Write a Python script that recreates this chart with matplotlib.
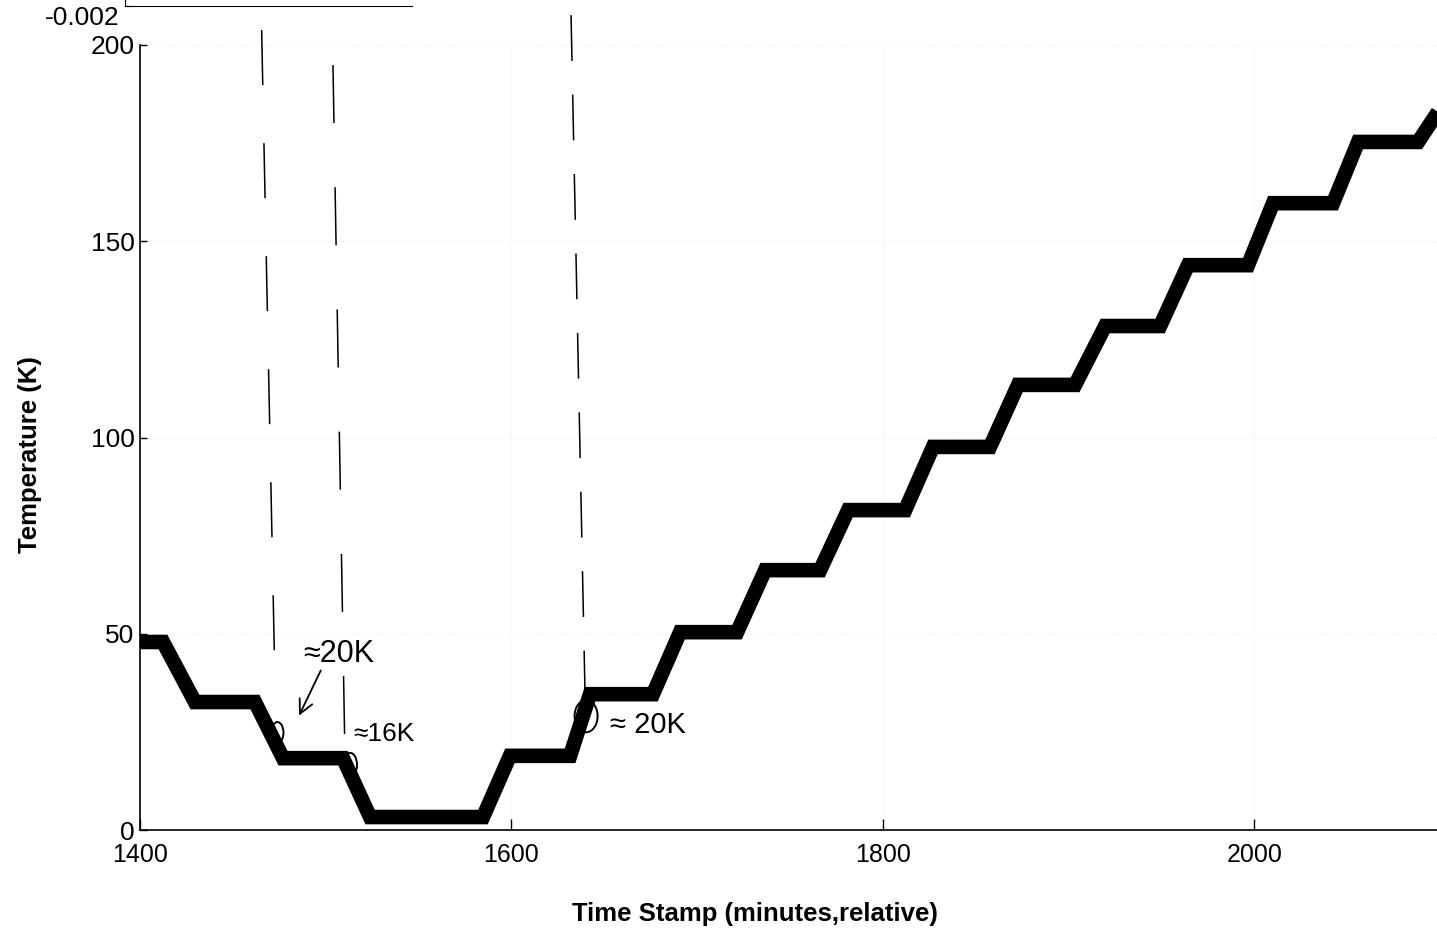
import numpy as np
import matplotlib
matplotlib.use('Agg')
import matplotlib.pyplot as plt
from matplotlib.patches import Ellipse

plt.rcParams['font.family'] = ['Liberation Sans', 'DejaVu Sans']

# staircase temperature profile (corner points)
time_min = [1400, 1412.4, 1429.6, 1461.9, 1477.0, 1509.3, 1523.9, 1584.7,
            1599.2, 1631.6, 1642.3, 1676.2, 1690.8, 1721.5, 1736.6, 1766.2,
            1781.3, 1812.0, 1827.0, 1857.7, 1872.8, 1903.5, 1919.7, 1949.3,
            1964.3, 1996.6, 2010.1, 2042.4, 2055.9, 2088.2, 2099.0]
temp_k = [47.9, 47.9, 32.6, 32.6, 18.3, 18.3, 3.3, 3.3,
          18.9, 18.9, 34.6, 34.6, 50.4, 50.4, 66.2, 66.2,
          81.5, 81.5, 97.6, 97.6, 113.4, 113.4, 128.4, 128.4,
          143.9, 143.9, 159.7, 159.7, 175.3, 175.3, 183.0]

x_ticks = [1400, 1600, 1800, 2000]
y_ticks = [0, 50, 100, 150, 200]

# hand drawn dashed markers (top / bottom ends)
dash_x_top = [1465.5, 1503.9, 1632.1]
dash_x_bot = [1472.5, 1510.4, 1639.7]
dash_t_top = [203.8, 194.9, 207.6]
dash_t_bot = [41.3, 17.8, 33.1]

# hand drawn circles and notes
circle_x = [1474.0, 1513.1, 1640.2]
circle_t = [24.8, 16.6, 29.0]
note_text = ['≈20K', '≈16K', '≈ 20K']
note_x = [1487.7, 1515.0, 1653.0]
note_t = [44.8, 24.5, 26.8]

fig = plt.figure(figsize=(14.37, 9.42), dpi=100)
ax = fig.add_axes([140/1437, 1-830/942, 1300/1437, 785/942])

ax.plot(time_min, temp_k, color='black', lw=10.5,
        solid_joinstyle='miter', solid_capstyle='butt')

ax.set_xlim(1400, 2100)
ax.set_ylim(0, 200)
ax.set_xticks(x_ticks)
ax.set_yticks(y_ticks)
ax.grid(True, ls=':', color='#e6e6e6', lw=0.5)
for s in ['top', 'right']:
    ax.spines[s].set_visible(False)
for s in ['left', 'bottom']:
    ax.spines[s].set_linewidth(1.2)
ax.tick_params(axis='x', direction='in', length=8, width=1, labelsize=18, pad=9)
ax.tick_params(axis='y', direction='in', length=5, width=1, labelsize=19, pad=4)

ax.set_xlabel('Time Stamp (minutes,relative)', fontsize=18.5, fontweight='bold')
ax.xaxis.set_label_coords(0.473, -0.092)
ax.set_ylabel('Temperature (K)', fontsize=18.5, fontweight='bold')
ax.yaxis.set_label_coords(-0.0754, 0.478)

# pen marks
dash_styles = [(36, 38), (38, 42), (30, 22)]
for i in range(3):
    ax.plot([dash_x_top[i], dash_x_bot[i]], [dash_t_top[i], dash_t_bot[i]],
            color='black', lw=1.1, dashes=dash_styles[i], clip_on=False)

ellipse_w = [6.5, 7.5, 12.4]
ellipse_h = [5.4, 6.1, 8.2]
for cx, ct, ew, eh in zip(circle_x, circle_t, ellipse_w, ellipse_h):
    ax.add_patch(Ellipse((cx, ct), ew, eh, fill=False, ec='black', lw=1.4,
                         zorder=4))

sizes = [22, 19, 21]
for txt, nx, nt, fs in zip(note_text, note_x, note_t, sizes):
    ax.text(nx, nt, txt, fontsize=fs, va='center', ha='left',
            fontweight='light', family=['Liberation Sans', 'DejaVu Sans'])

ax.annotate('', xy=(1485, 28.5), xytext=(1498, 41.3),
            arrowprops=dict(arrowstyle='->', lw=1.3, color='black',
                            mutation_scale=25))

# remains of the panel above
ax_top = fig.add_axes([125/1437, 1-6/942, (412-125)/1437, 0.2])
ax_top.set_ylim(-0.002, 0.01)
ax_top.set_yticks([-0.002])
ax_top.set_yticklabels(['-0.002'])
ax_top.set_xticks([])
ax_top.patch.set_alpha(0)
for s in ['top', 'right']:
    ax_top.spines[s].set_visible(False)
ax_top.tick_params(axis='y', direction='in', length=5, labelsize=19, pad=4)
for lbl in ax_top.get_yticklabels():
    lbl.set_va('top')

fig.savefig('out.png', dpi=100)
